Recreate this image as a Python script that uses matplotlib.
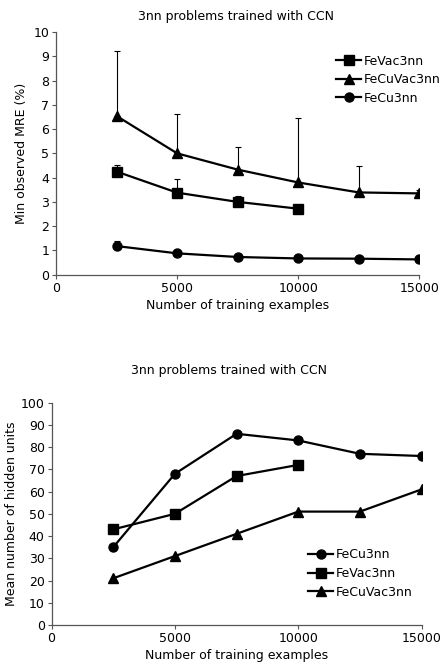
import matplotlib
matplotlib.use("Agg")
import matplotlib.pyplot as plt
import numpy as np

plt.rcParams["font.family"] = ["DejaVu Sans"]

# training set sizes
n_train = [2500, 5000, 7500, 10000, 12500, 15000]

# min observed MRE (%) and upper error bars
mre_fevac = [4.25, 3.38, 3.0, 2.72]
mre_fevac_up = [0.27, 0.56, 0.24, 0.0]
mre_fecuvac = [6.54, 5.0, 4.33, 3.8, 3.39, 3.35]
mre_fecuvac_up = [2.68, 1.63, 0.93, 2.66, 1.1, 0.14]
mre_fecu = [1.18, 0.88, 0.73, 0.67, 0.66, 0.63]
mre_fecu_up = [0.22, 0.0, 0.0, 0.0, 0.0, 0.0]

# mean number of hidden units
hid_fecu = [35, 68, 86, 83, 77, 76]
hid_fevac = [43, 50, 67, 72]
hid_fecuvac = [21, 31, 41, 51, 51, 61]

fig = plt.figure(figsize=(4.41, 6.71), dpi=100)
ax1 = fig.add_axes([0.127, 0.5906, 0.824, 0.3617])
ax2 = fig.add_axes([0.117, 0.0686, 0.839, 0.3313])

LW = 1.6
TITLE = "3nn problems trained with CCN"


def style(ax, ymax, ystep):
    ax.set_xlim(0, 15000)
    ax.set_ylim(0, ymax)
    ax.set_xticks([0, 5000, 10000, 15000])
    ax.set_yticks(np.arange(0, ymax + 1, ystep))
    for s in ["top", "right"]:
        ax.spines[s].set_visible(False)
    for s in ["left", "bottom"]:
        ax.spines[s].set_color("#555555")
        ax.spines[s].set_linewidth(0.9)
    ax.tick_params(direction="out", length=3, width=0.8, color="#555555",
                   labelsize=9, pad=2)
    ax.set_xlabel("Number of training examples", fontsize=9, labelpad=3)


def with_err(ax, y, up, marker, ms, label):
    x = n_train[:len(y)]
    ax.errorbar(x, y, yerr=[np.zeros(len(y)), up], fmt="none", ecolor="black",
                elinewidth=0.8, capsize=2.5, capthick=0.8, zorder=2)
    ax.plot(x, y, color="black", lw=LW, marker=marker, ms=ms, label=label, zorder=3)


# top panel
with_err(ax1, mre_fevac, mre_fevac_up, "s", 7, "FeVac3nn")
with_err(ax1, mre_fecuvac, mre_fecuvac_up, "^", 7, "FeCuVac3nn")
with_err(ax1, mre_fecu, mre_fecu_up, "o", 6.5, "FeCu3nn")
style(ax1, 10, 1)
ax1.set_ylabel("Min observed MRE (%)", fontsize=9, labelpad=4)
fig.text(0.535, 0.975, TITLE, ha="center", va="center", fontsize=9)
ax1.legend(loc="upper left", bbox_to_anchor=(0.748, 0.928), bbox_transform=fig.transFigure,
           frameon=False, fontsize=9, handlelength=2.0, handletextpad=0.2,
           labelspacing=0.45, borderpad=0)

# bottom panel
ax2.plot(n_train[:len(hid_fecu)], hid_fecu, color="black", lw=LW, marker="o", ms=6.5,
         label="FeCu3nn")
ax2.plot(n_train[:len(hid_fevac)], hid_fevac, color="black", lw=LW, marker="s", ms=7,
         label="FeVac3nn")
ax2.plot(n_train[:len(hid_fecuvac)], hid_fecuvac, color="black", lw=LW, marker="^", ms=7,
         label="FeCuVac3nn")
style(ax2, 100, 10)
ax2.set_ylabel("Mean number of hidden units", fontsize=9, labelpad=2)
fig.text(0.52, 0.4475, TITLE, ha="center", va="center", fontsize=9)
ax2.legend(loc="upper left", bbox_to_anchor=(0.685, 0.192), bbox_transform=fig.transFigure,
           frameon=False, fontsize=9, handlelength=2.0, handletextpad=0.2,
           labelspacing=0.45, borderpad=0)

fig.savefig("out.png", dpi=100, facecolor="white")
